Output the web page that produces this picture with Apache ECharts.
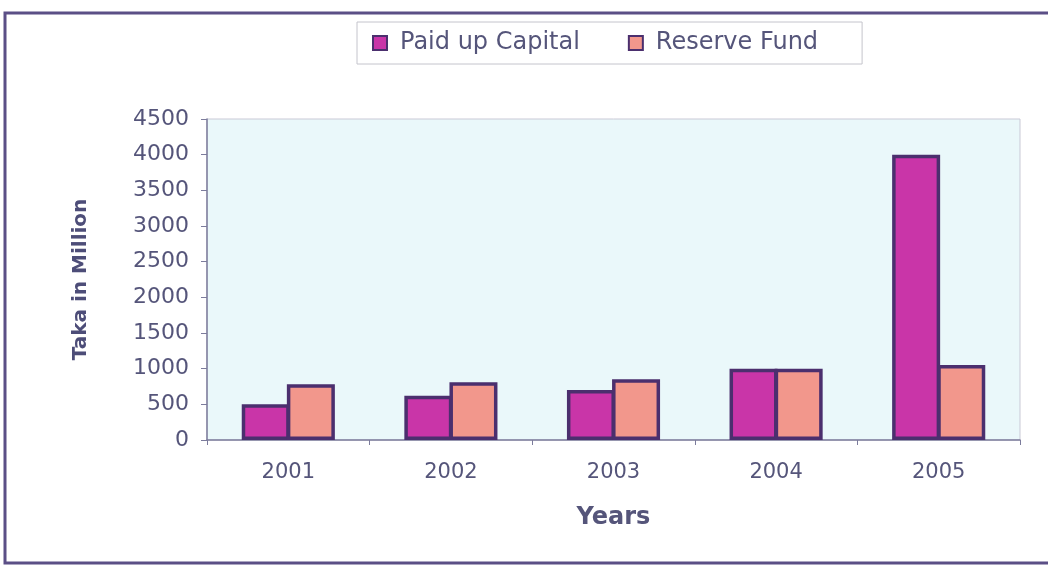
<!DOCTYPE html>
<html>
<head>
<meta charset="utf-8">
<style>
  html, body { margin: 0; padding: 0; background: #ffffff; }
  #chart { width: 1048px; height: 565px; }
</style>
<script src="https://cdn.jsdelivr.net/npm/echarts@6/dist/echarts.min.js"></script>
</head>
<body>
<div id="chart"></div>
<script>
// Yearly figures, Taka in million
const years = ['2001', '2002', '2003', '2004', '2005'];
const paidUpCapital = [500, 620, 700, 1000, 4000];
const reserveFund = [780, 810, 850, 1000, 1050];
const yTicks = { min: 0, max: 4500, step: 500 };

const textColor = '#55557a';
const barBorder = '#4b2f6e';
const font = 'DejaVu Sans, Verdana, sans-serif';

const chart = echarts.init(document.getElementById('chart'), null, { renderer: 'canvas' });

chart.setOption({
  backgroundColor: '#ffffff',
  animation: false,
  graphic: [{
    type: 'rect',
    shape: { x: 5, y: 13, width: 1060, height: 550 },
    style: { fill: 'none', stroke: '#5b4f86', lineWidth: 3 },
    silent: true
  }],
  legend: {
    data: ['Paid up Capital', 'Reserve Fund'],
    left: 357,
    top: 22,
    padding: [9, 44, 9, 15],
    itemGap: 48,
    itemWidth: 14,
    itemHeight: 14,
    borderColor: '#c4c4cc',
    borderWidth: 1,
    backgroundColor: '#ffffff',
    icon: 'rect',
    textStyle: { fontFamily: font, fontSize: 24, color: textColor, padding: [0, 0, 0, 8] }
  },
  grid: {
    left: 207,
    right: 28,
    top: 119,
    bottom: 125,
    show: true,
    backgroundColor: '#eaf8fa',
    borderColor: '#c9c9d6',
    borderWidth: 1
  },
  xAxis: {
    type: 'category',
    data: years,
    name: 'Years',
    nameLocation: 'middle',
    nameGap: 66,
    nameTextStyle: { fontFamily: font, fontSize: 24, fontWeight: 'bold', color: textColor },
    axisLine: { lineStyle: { color: '#7c7c9c', width: 1.5 } },
    axisTick: { show: true, inside: false, length: 5, lineStyle: { color: '#7c7c9c' } },
    axisLabel: { fontFamily: font, fontSize: 21, color: textColor, margin: 22 }
  },
  yAxis: {
    type: 'value',
    min: yTicks.min,
    max: yTicks.max,
    interval: yTicks.step,
    name: 'Taka in Million',
    nameLocation: 'middle',
    nameGap: 116,
    nameTextStyle: { fontFamily: font, fontSize: 20, fontWeight: 'bold', color: '#4d4d78' },
    axisLine: { show: true, lineStyle: { color: '#7c7c9c', width: 1.5 } },
    axisTick: { show: true, length: 6, lineStyle: { color: '#7c7c9c' } },
    splitLine: { show: false },
    axisLabel: {
      fontFamily: font, fontSize: 22, color: textColor, margin: 18,
      formatter: (v) => String(v)
    }
  },
  series: [
    {
      name: 'Paid up Capital',
      type: 'bar',
      data: paidUpCapital,
      barWidth: 48,
      barGap: '-6%',
      itemStyle: { color: '#c935a8', borderColor: barBorder, borderWidth: 3.5 }
    },
    {
      name: 'Reserve Fund',
      type: 'bar',
      data: reserveFund,
      barWidth: 48,
      barGap: '-6%',
      itemStyle: { color: '#f2978c', borderColor: barBorder, borderWidth: 3.5 }
    }
  ]
});
</script>
</body>
</html>
